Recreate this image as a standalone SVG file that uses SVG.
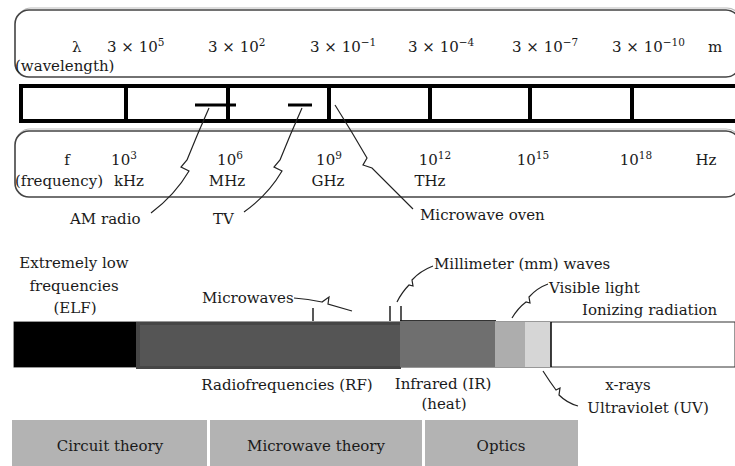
<svg xmlns="http://www.w3.org/2000/svg" width="735" height="466" viewBox="0 0 735 466">
<style>
text{font-family:"DejaVu Serif","Liberation Serif",serif;font-size:15px;fill:#1a1a1a}
.c{text-anchor:middle}
.sup{font-size:10.5px}
.frame{fill:#fff;stroke:#444;stroke-width:1.6}
.frame2{fill:none;stroke:#bbb;stroke-width:1.2}
.bar{fill:none;stroke:#000;stroke-width:4}
.tick{stroke:#000;stroke-width:3}
.thin{stroke:#111;stroke-width:1.4;fill:none}
.conn{fill:none;stroke:#222;stroke-width:1.2}
.box{fill:#b3b3b3}
</style>
<rect width="735" height="466" fill="#fff"/>

<g id="wavelength-scale">
<rect class="frame2" x="17" y="8" width="724" height="67" rx="14"/>
<rect class="frame" x="15" y="10" width="725" height="67" rx="14"/>
<text x="72" y="52">λ</text>
<text x="107" y="52">3 × 10<tspan class="sup" dy="-6">5</tspan></text>
<text x="208" y="52">3 × 10<tspan class="sup" dy="-6">2</tspan></text>
<text x="310" y="52">3 × 10<tspan class="sup" dy="-6">−1</tspan></text>
<text x="408" y="52">3 × 10<tspan class="sup" dy="-6">−4</tspan></text>
<text x="512" y="52">3 × 10<tspan class="sup" dy="-6">−7</tspan></text>
<text x="612" y="52">3 × 10<tspan class="sup" dy="-6">−10</tspan></text>
<text x="708" y="52">m</text>
<text x="15" y="71">(wavelength)</text>
</g>

<g id="band-bar">
<rect x="21" y="86" width="718" height="35" fill="#fff" class="bar"/>
<line class="bar" x1="126" y1="86" x2="126" y2="121"/>
<line class="bar" x1="228" y1="86" x2="228" y2="121"/>
<line class="bar" x1="329" y1="86" x2="329" y2="121"/>
<line class="bar" x1="430" y1="86" x2="430" y2="121"/>
<line class="bar" x1="530" y1="86" x2="530" y2="121"/>
<line class="bar" x1="632" y1="86" x2="632" y2="121"/>
<line class="tick" x1="195" y1="105" x2="236" y2="105"/>
<line class="tick" x1="288" y1="105" x2="312" y2="105"/>
</g>

<g id="frequency-scale">
<rect class="frame2" x="16" y="129" width="724" height="67" rx="14"/>
<rect class="frame" x="15" y="131" width="725" height="66" rx="14"/>
<text class="c" x="67" y="165">f</text>
<text x="15" y="186">(frequency)</text>
<text class="c" x="124" y="165">10<tspan class="sup" dy="-6">3</tspan></text>
<text class="c" x="129" y="186">kHz</text>
<text class="c" x="230" y="165">10<tspan class="sup" dy="-6">6</tspan></text>
<text class="c" x="227" y="186">MHz</text>
<text class="c" x="329" y="165">10<tspan class="sup" dy="-6">9</tspan></text>
<text class="c" x="328" y="186">GHz</text>
<text class="c" x="435" y="165">10<tspan class="sup" dy="-6">12</tspan></text>
<text class="c" x="430" y="186">THz</text>
<text class="c" x="533" y="165">10<tspan class="sup" dy="-6">15</tspan></text>
<text class="c" x="636" y="165">10<tspan class="sup" dy="-6">18</tspan></text>
<text class="c" x="706" y="165">Hz</text>
</g>

<g id="spectrum-bar">
<rect x="14" y="322" width="721" height="45" fill="#fff" stroke="#333" stroke-width="1"/>
<rect x="14" y="322" width="122" height="45" fill="#000"/>
<rect x="136" y="322" width="265" height="47" fill="#464646"/>
<rect x="140" y="325" width="260" height="41" fill="#555"/>
<rect x="400" y="320" width="95" height="47" fill="#6f6f6f"/>
<line x1="400" y1="320.5" x2="496" y2="320.5" stroke="#333" stroke-width="1"/>
<rect x="495" y="322" width="30" height="45" fill="#adadad"/>
<rect x="525" y="322" width="26" height="45" fill="#d6d6d6"/>
<line x1="551" y1="322" x2="551" y2="367" stroke="#000" stroke-width="1.5"/>
<line class="thin" x1="313" y1="308" x2="313" y2="321"/>
<line class="thin" x1="390" y1="306" x2="390" y2="321"/>
<line class="thin" x1="401" y1="306" x2="401" y2="321"/>
</g>

<g id="labels">
<text x="70" y="224">AM radio</text>
<text x="213" y="224">TV</text>
<text x="420" y="220">Microwave oven</text>
<text class="c" x="74" y="268">Extremely low</text>
<text class="c" x="74" y="291">frequencies</text>
<text class="c" x="75" y="313">(ELF)</text>
<text x="202" y="303">Microwaves</text>
<text x="434" y="269">Millimeter (mm) waves</text>
<text x="549" y="293">Visible light</text>
<text x="582" y="315">Ionizing radiation</text>
<text class="c" x="287" y="390">Radiofrequencies (RF)</text>
<text class="c" x="443" y="389">Infrared (IR)</text>
<text class="c" x="444" y="409">(heat)</text>
<text class="c" x="628" y="390">x-rays</text>
<text class="c" x="648" y="413">Ultraviolet (UV)</text>
</g>

<g id="connectors">
<path class="conn" d="M209,108 Q197,135 187,160 L181,167 L189,171 Q175,195 151,213"/>
<path class="conn" d="M302,108 Q290,135 280,160 L274,167 L282,171 Q268,195 244,212"/>
<path class="conn" d="M335,105 Q352,132 367,158 L363,165 L372,168 L413,209"/>
<path class="conn" d="M294,298 Q308,299 322,302 L329,297 L328,304 L352,311"/>
<path class="conn" d="M397,302 Q402,292 409,285 L413,286 L412,280 Q420,271 433,266"/>
<path class="conn" d="M512,318 Q518,308 526,302 L530,303 L529,297 Q537,288 548,284"/>
<path class="conn" d="M543,371 Q550,382 556,390 L560,388 L559,395 Q567,403 578,406"/>
</g>

<g id="theory-boxes">
<g id="circuit-theory"><rect class="box" x="12" y="420" width="195" height="46"/><text class="c" x="110" y="451">Circuit theory</text></g>
<g id="microwave-theory"><rect class="box" x="210" y="420" width="212" height="46"/><text class="c" x="316" y="451">Microwave theory</text></g>
<g id="optics"><rect class="box" x="425" y="420" width="153" height="46"/><text class="c" x="501" y="451">Optics</text></g>
</g>
</svg>
